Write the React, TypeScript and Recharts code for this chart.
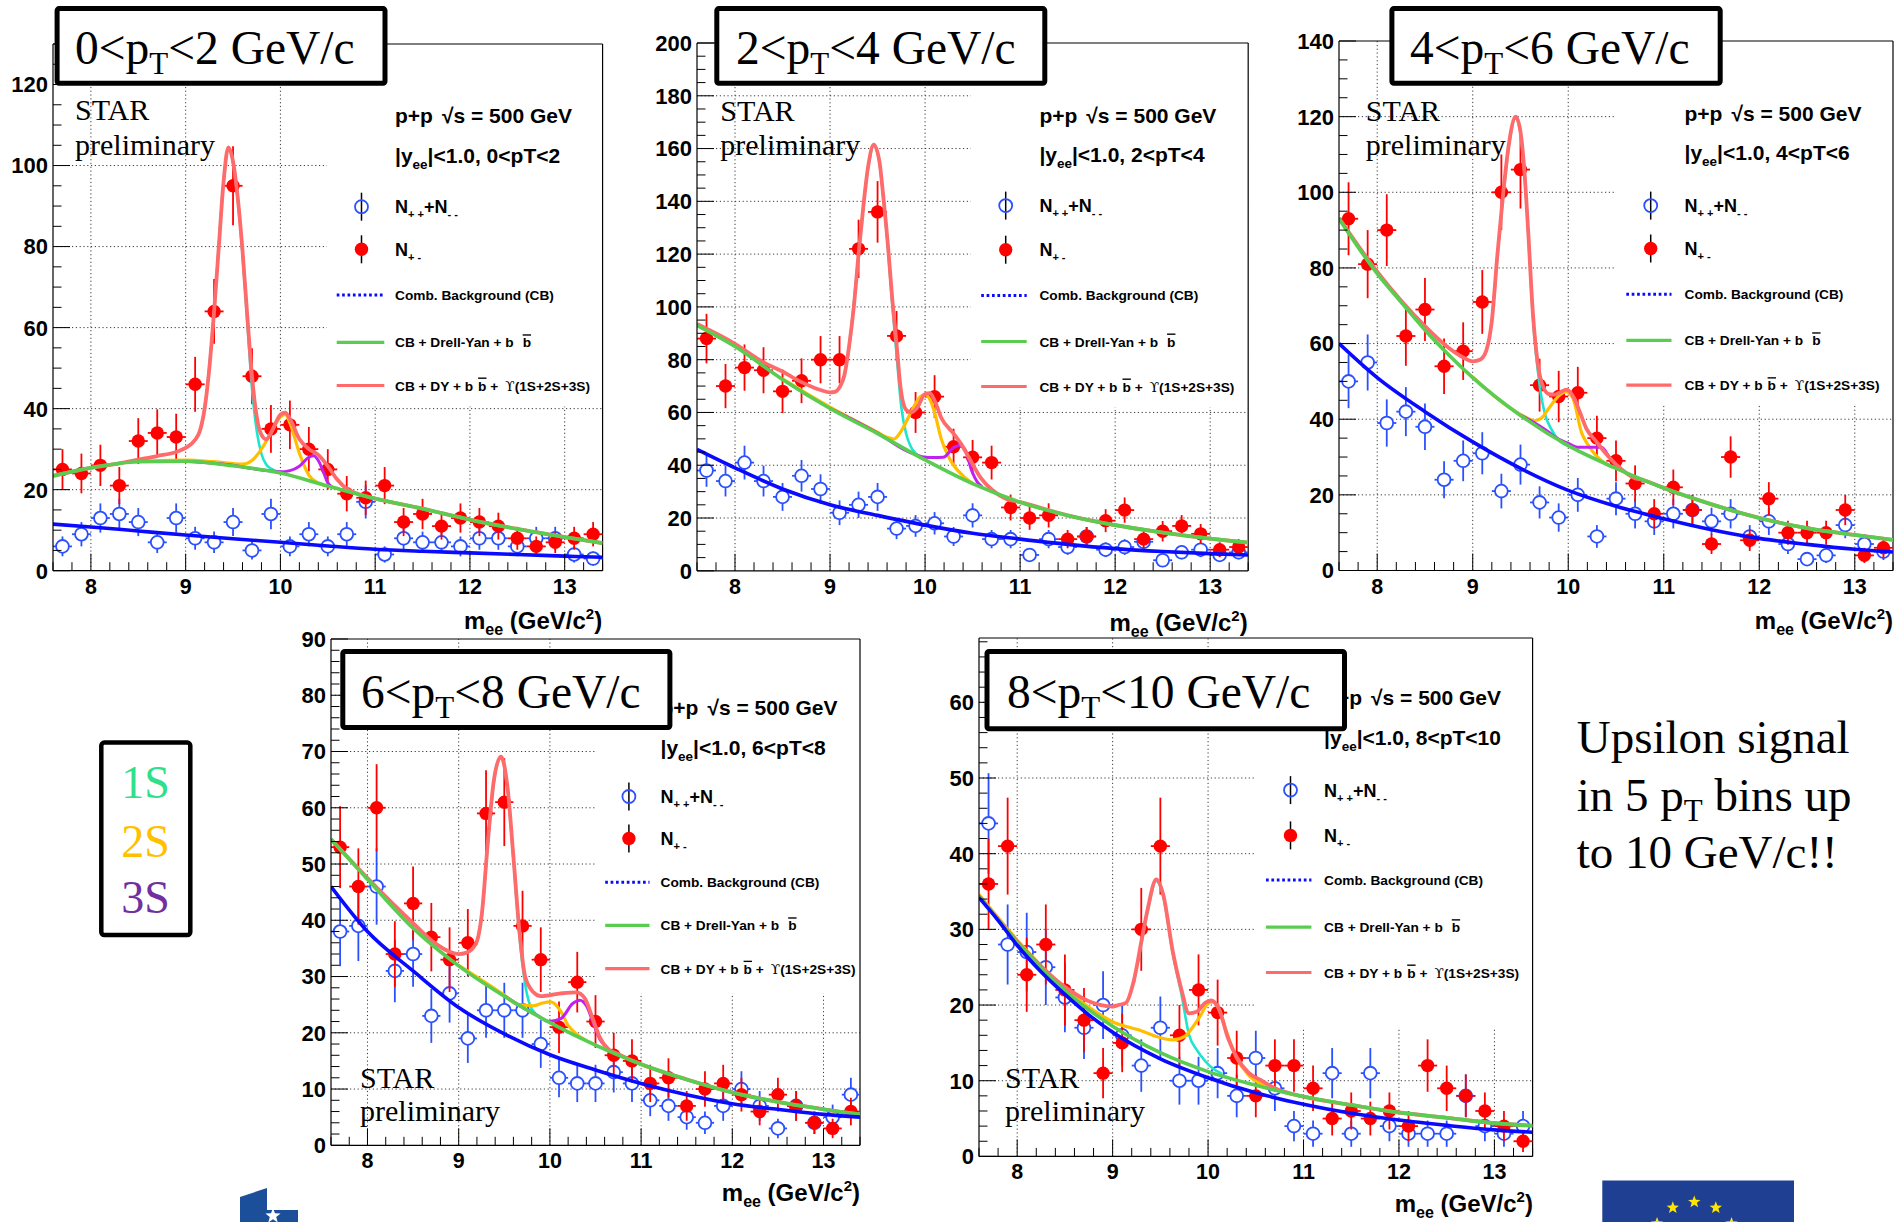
import React from 'react';
import {
  ComposedChart,
  XAxis,
  YAxis,
  Scatter,
  Line,
  ErrorBar,
  ReferenceLine,
  ReferenceArea,
} from 'recharts';

type Pt = [number, number];

// ---------------------------------------------------------------------------
// Data: dielectron invariant-mass spectra, p+p sqrt(s) = 500 GeV
// ---------------------------------------------------------------------------

// Bin centres in m_ee (GeV/c^2); bins are 0.2 GeV/c^2 wide
const massBins = [
  7.7, 7.9, 8.1, 8.3, 8.5, 8.7, 8.9, 9.1, 9.3, 9.5, 9.7, 9.9, 10.1, 10.3, 10.5,
  10.7, 10.9, 11.1, 11.3, 11.5, 11.7, 11.9, 12.1, 12.3, 12.5, 12.7, 12.9, 13.1, 13.3,
];
const massRange: [number, number] = [7.6, 13.4];
const massTickLabels = [8, 9, 10, 11, 12, 13];
const binHalfWidth = 0.1;

// pT bin edges (GeV/c)
const ptBins: [string, string][] = [['0', '2'], ['2', '4'], ['4', '6'], ['6', '8'], ['8', '10']];

// 0 < pT < 2
const p1Unlike = [25, 24, 26, 21, 32, 34, 33, 46, 64, 95, 48, 35, 36, 30, 25, 19, 18, 21, 12, 14, 11, 13, 12, 11, 8, 6, 7, 8, 9];
const p1Like = [6, 9, 13, 14, 12, 7, 13, 8, 7, 12, 5, 14, 6, 9, 6, 9, 17, 4, 8, 7, 7, 6, 8, 8, 6, 8, 8, 4, 3];
const p1Comb: Pt[] = [[7.6, 11.5], [8, 10.8], [8.5, 9.8], [9, 8.8], [9.5, 7.9], [10, 7.0], [10.5, 6.1], [11, 5.3], [11.5, 4.8], [12, 4.4], [12.5, 4.0], [13, 3.6], [13.4, 3.3]];
const p1DrellYan: Pt[] = [[7.6, 23.4], [8, 25.4], [8.5, 26.9], [9, 27.0], [9.5, 25.9], [10, 24.1], [10.5, 20.9], [11, 17.8], [11.5, 15.3], [12, 12.6], [12.5, 10.3], [13, 8.3], [13.4, 6.8]];
const p1Full: Pt[] = [[7.6, 23.4], [8, 25.4], [8.3, 26.5], [8.5, 27.4], [8.7, 28.3], [8.9, 29.3], [9.0, 30.3], [9.1, 32.3], [9.15, 34.5], [9.2, 40], [9.25, 50], [9.3, 64], [9.35, 80], [9.4, 96], [9.45, 104.5], [9.5, 101], [9.55, 92], [9.6, 79], [9.65, 63], [9.7, 48], [9.75, 38], [9.8, 33.5], [9.85, 32.4], [9.9, 34], [9.95, 36.5], [10.0, 38.5], [10.05, 39], [10.1, 37.5], [10.2, 32.5], [10.3, 30], [10.4, 28.6], [10.5, 25.8], [10.6, 22.5], [10.7, 20.2], [10.8, 19.1], [11, 17.8], [11.5, 15.3], [12, 12.6], [12.5, 10.3], [13, 8.3], [13.4, 6.8]];
const p1Ups1S: Pt[] = [[9.1, 32.1], [9.2, 39.8], [9.3, 63.8], [9.4, 95.8], [9.45, 104.3], [9.5, 100.7], [9.55, 91.5], [9.6, 78], [9.65, 61.5], [9.7, 45], [9.75, 34.5], [9.8, 28.8], [9.85, 26.2], [9.9, 25.2], [10.0, 24.3]];
const p1Ups2S: Pt[] = [[8.6, 27.1], [9.0, 27.3], [9.3, 26.9], [9.6, 26.3], [9.7, 27.2], [9.8, 30], [9.9, 34], [10.0, 38], [10.05, 38.6], [10.1, 36.5], [10.2, 29], [10.3, 23.6], [10.4, 21.6], [10.5, 20.9]];
const p1Ups3S: Pt[] = [[9.0, 27.0], [9.5, 26.0], [9.7, 25.2], [9.9, 24.6], [10.0, 24.4], [10.1, 24.7], [10.2, 25.8], [10.3, 28], [10.35, 28.4], [10.4, 27.2], [10.45, 24.6], [10.5, 21.7], [10.55, 20.6]];

// 2 < pT < 4
const p2Unlike = [88, 70, 77, 76, 68, 72, 80, 80, 122, 136, 89, 60, 66, 47, 43, 41, 24, 20, 21, 12, 13, 19, 23, 12, 15, 17, 14, 8, 9];
const p2Like = [38, 34, 41, 34, 28, 36, 31, 22, 25, 28, 16, 17, 18, 13, 21, 12, 12, 6, 12, 9, 13, 8, 9, 11, 4, 7, 8, 6, 7];
const p2Comb: Pt[] = [[7.6, 46], [8, 39], [8.5, 31], [9, 25], [9.5, 21], [10, 17.3], [10.5, 14.2], [11, 12], [11.5, 10], [12, 8.4], [12.5, 7.3], [13, 6.5], [13.4, 6]];
const p2DrellYan: Pt[] = [[7.6, 93], [8, 85], [8.5, 72.5], [9, 61.5], [9.5, 52], [10, 42], [10.5, 33], [11, 26], [11.5, 21], [12, 17.3], [12.5, 14.5], [13, 12.2], [13.4, 10.7]];
const p2Full: Pt[] = [[7.6, 93.5], [8, 86], [8.3, 79], [8.5, 75.5], [8.7, 71.5], [8.9, 68.5], [9.0, 67.6], [9.05, 67.8], [9.1, 69.5], [9.15, 74], [9.2, 85], [9.25, 100], [9.3, 120], [9.35, 138], [9.4, 153], [9.46, 161.5], [9.52, 155], [9.56, 142], [9.61, 123], [9.65, 105], [9.7, 86], [9.74, 70], [9.8, 61], [9.85, 60], [9.92, 62], [10.0, 67], [10.05, 67.3], [10.1, 64.5], [10.17, 58], [10.3, 52], [10.38, 48], [10.46, 43], [10.59, 35], [10.71, 30.5], [10.85, 27.3], [11, 26], [11.5, 21], [12, 17.3], [12.5, 14.5], [13, 12.2], [13.4, 10.7]];
const p2Ups1S: Pt[] = [[9.15, 73.5], [9.2, 84.5], [9.3, 119.5], [9.4, 152.5], [9.46, 161], [9.52, 154.5], [9.56, 141.5], [9.61, 122], [9.65, 103], [9.7, 82], [9.75, 62], [9.8, 52], [9.85, 47], [9.9, 44.5], [10, 42]];
const p2Ups2S: Pt[] = [[8.5, 72.7], [9, 62], [9.5, 52.5], [9.6, 50.6], [9.67, 49.9], [9.75, 53], [9.85, 60], [9.95, 66], [10.0, 66.8], [10.05, 65], [10.1, 60], [10.17, 50], [10.25, 43], [10.3, 40], [10.4, 36], [10.5, 33.2]];
const p2Ups3S: Pt[] = [[9.0, 61.6], [9.5, 52.2], [9.8, 45.5], [9.9, 44], [10.0, 43], [10.09, 42.9], [10.19, 43], [10.3, 46.7], [10.36, 47.5], [10.42, 46], [10.49, 38], [10.55, 33.6], [10.6, 31.8]];

// 4 < pT < 6
const p3Unlike = [93, 81, 90, 62, 69, 54, 58, 71, 100, 106, 49, 46, 47, 35, 29, 23, 15, 22, 16, 7, 30, 8, 19, 10, 10, 10, 16, 4, 6];
const p3Like = [50, 55, 39, 42, 38, 24, 29, 31, 21, 28, 18, 14, 20, 9, 19, 15, 13, 15, 16, 13, 15, 9, 13, 7, 3, 4, 12, 7, 5];
const p3Comb: Pt[] = [[7.6, 60], [8, 51], [8.5, 42], [9, 34], [9.5, 27], [10, 21.2], [10.5, 17], [11, 13.7], [11.5, 10.8], [12, 8.5], [12.5, 6.9], [13, 5.6], [13.4, 4.9]];
const p3DrellYan: Pt[] = [[7.6, 93], [7.8, 85.5], [8, 78.5], [8.25, 71], [8.5, 63.6], [8.75, 57], [9, 51], [9.5, 41], [10, 33], [10.5, 27], [11, 21.8], [11.5, 17.5], [12, 13.9], [12.5, 11.2], [13, 9.4], [13.4, 8.1]];
const p3Full: Pt[] = [[7.6, 93.2], [8, 79], [8.5, 64.6], [8.75, 58.8], [8.9, 56.3], [9.0, 55.3], [9.08, 55.8], [9.14, 58], [9.2, 66], [9.26, 84], [9.32, 100], [9.38, 113], [9.45, 120], [9.5, 116], [9.54, 106], [9.58, 90], [9.63, 68], [9.68, 55], [9.73, 49], [9.8, 46.6], [9.86, 46.5], [9.92, 47.2], [9.98, 47.8], [10.06, 45.6], [10.12, 42], [10.19, 37.5], [10.29, 34.2], [10.43, 29.9], [10.56, 26.7], [10.68, 24.6], [10.8, 23.8], [11, 21.8], [11.5, 17.5], [12, 13.9], [12.5, 11.2], [13, 9.4], [13.4, 8.1]];
const p3Ups1S: Pt[] = [[9.2, 65.5], [9.26, 83.5], [9.32, 99.5], [9.38, 112.5], [9.45, 119.5], [9.5, 115.5], [9.54, 105.5], [9.58, 89.5], [9.63, 67], [9.7, 49], [9.76, 41], [9.82, 37.5], [9.9, 34.5], [10.0, 33]];
const p3Ups2S: Pt[] = [[9.0, 51.2], [9.5, 41.3], [9.65, 39.6], [9.72, 40.3], [9.8, 43], [9.86, 45], [9.92, 46.6], [9.98, 47.2], [10.05, 45.5], [10.14, 36.4], [10.2, 33.5], [10.27, 31], [10.35, 29], [10.43, 27.7], [10.5, 27.1]];
const p3Ups3S: Pt[] = [[9.5, 41.1], [9.8, 36.5], [9.86, 35.3], [10.0, 33.6], [10.1, 32.6], [10.2, 32.6], [10.35, 32.6], [10.43, 29.9], [10.52, 27.2], [10.58, 26.4]];

// 6 < pT < 8
const p4Unlike = [53, 46, 60, 34, 43, 37, 33, 36, 59, 61, 39, 33, 21, 29, 22, 16, 15, 11, 12, 7, 10, 11, 9, 6, 9, 7, 4, 3, 6];
const p4Like = [38, 39, 46, 31, 34, 23, 27, 19, 24, 24, 24, 18, 12, 11, 11, 13, 11, 8, 7, 5, 4, 7, 10, 7, 3, 7, 4, 5, 9];
const p4Comb: Pt[] = [[7.6, 46], [8, 38], [8.5, 31], [9, 24.5], [9.5, 19.8], [10, 16.1], [10.5, 13.4], [11, 11], [11.5, 9], [12, 7.4], [12.5, 6.4], [13, 5.5], [13.4, 5]];
const p4DrellYan: Pt[] = [[7.6, 54.4], [8, 47.3], [8.5, 38.6], [9, 31.9], [9.5, 26.5], [10, 21.8], [10.5, 17.8], [11, 14.4], [11.5, 11.7], [12, 9.4], [12.5, 7.7], [13, 6.4], [13.4, 5.5]];
const p4Full: Pt[] = [[7.6, 54.4], [8, 47.5], [8.5, 39.5], [8.75, 35.8], [9.0, 34], [9.08, 34.2], [9.19, 35.9], [9.255, 41.3], [9.32, 54], [9.385, 64.8], [9.463, 69.1], [9.537, 63.4], [9.6, 51.3], [9.667, 37.9], [9.73, 29.9], [9.82, 27.2], [9.9, 26.5], [10.12, 27], [10.29, 27.2], [10.38, 26.2], [10.47, 22.5], [10.55, 19.1], [10.64, 17.1], [10.75, 16.2], [11, 14.4], [11.5, 11.7], [12, 9.4], [12.5, 7.7], [13, 6.4], [13.4, 5.5]];
const p4Ups1S: Pt[] = [[9.19, 35.6], [9.255, 41], [9.32, 53.7], [9.385, 64.5], [9.463, 68.8], [9.537, 63], [9.6, 50.8], [9.667, 37], [9.73, 28.5], [9.78, 25], [9.86, 23.1], [9.95, 22.3]];
const p4Ups2S: Pt[] = [[9.0, 32], [9.5, 26.7], [9.65, 25], [9.82, 24.8], [9.92, 25.3], [10.01, 25.5], [10.12, 23.8], [10.2, 21.3], [10.29, 19.8], [10.4, 18.6]];
const p4Ups3S: Pt[] = [[9.5, 26.6], [9.7, 24.5], [9.85, 23.2], [9.99, 22], [10.12, 22.5], [10.25, 25.2], [10.33, 25.8], [10.4, 24.8], [10.49, 21.1], [10.55, 18.8], [10.62, 17.4]];

// 8 < pT < 10
const p5Unlike = [36, 41, 24, 28, 22, 18, 11, 15, 30, 41, 16, 22, 19, 13, 8, 12, 12, 9, 5, 6, 5, 6, 4, 12, 9, 8, 6, 4, 2];
const p5Like = [44, 28, 27, 25, 21, 17, 20, 16, 12, 17, 10, 10, 11, 8, 13, 9, 4, 3, 11, 3, 11, 4, 3, 3, 3, 8, 4, 3, 4];
const p5Comb: Pt[] = [[7.6, 34.2], [7.8, 31.2], [8, 27.9], [8.25, 24.4], [8.5, 21.4], [8.75, 18.7], [9, 16.4], [9.5, 12.9], [10, 10.4], [10.5, 8.4], [11, 6.9], [11.5, 5.7], [12, 4.8], [12.5, 4.1], [13, 3.5], [13.4, 3.2]];
const p5DrellYan: Pt[] = [[7.6, 34.4], [8, 28.3], [8.5, 21.9], [9, 17.2], [9.5, 13.7], [10, 11.2], [10.5, 9.4], [11, 7.9], [11.5, 6.8], [12, 5.8], [12.5, 5.1], [13, 4.4], [13.4, 4.05]];
const p5Full: Pt[] = [[7.6, 34.4], [8, 28.4], [8.5, 22.4], [8.75, 20.5], [9.0, 19.8], [9.06, 20], [9.14, 20.3], [9.22, 23.1], [9.304, 28.6], [9.366, 32.6], [9.457, 36.6], [9.53, 34.6], [9.63, 27.1], [9.72, 22.1], [9.8, 18.9], [9.88, 19.1], [9.97, 20.3], [10.03, 20.6], [10.11, 19.6], [10.21, 15.6], [10.3, 13.1], [10.42, 11.1], [10.55, 10.1], [10.7, 9.0], [11, 7.9], [11.5, 6.8], [12, 5.8], [12.5, 5.1], [13, 4.4], [13.4, 4.05]];
const p5Ups1S: Pt[] = [[9.22, 22.8], [9.304, 28.3], [9.366, 32.3], [9.457, 36.4], [9.53, 34.4], [9.63, 26.8], [9.72, 21.5], [9.8, 16.1], [9.88, 14.1], [9.97, 12.6], [10.05, 11.6], [10.15, 10.9]];
const p5Ups2S: Pt[] = [[7.6, 34.6], [8, 28.6], [8.5, 22.2], [8.8, 19.3], [9.0, 17.8], [9.3, 16.6], [9.47, 15.8], [9.63, 15.4], [9.76, 15.9], [9.84, 17.1], [9.92, 18.6], [10.0, 20.2], [10.05, 20.4], [10.12, 19.3], [10.2, 16.2], [10.3, 13], [10.42, 10.8], [10.55, 9.6], [10.65, 9.1]];
const p5Ups3S: Pt[] = [];

// Count-axis major ticks for each panel
const p1YTicks = [0, 20, 40, 60, 80, 100, 120];
const p2YTicks = [0, 20, 40, 60, 80, 100, 120, 140, 160, 180, 200];
const p3YTicks = [0, 20, 40, 60, 80, 100, 120, 140];
const p4YTicks = [0, 10, 20, 30, 40, 50, 60, 70, 80, 90];
const p5YTicks = [0, 10, 20, 30, 40, 50, 60];

// ---------------------------------------------------------------------------
// Styling
// ---------------------------------------------------------------------------
const SANS = '"Liberation Sans", Arial, Helvetica, sans-serif';
const SERIF = '"Liberation Serif", "Times New Roman", Times, serif';
const SYMBOL = '"DejaVu Serif", "Liberation Serif", serif';
const C_LIKE = '#2b50ff';
const C_UNLIKE = '#ff0000';
const C_CB = '#0a0aff';
const C_DY = '#5acd50';
const C_FULL = '#ff6a6a';
const C_1S = '#1de6cf';
const C_2S = '#ffbf00';
const C_3S = '#c020f0';

// Space around each plot rectangle inside its chart surface
const PAD_LEFT = 70;
const PAD_TOP = 24;
const PAD_RIGHT = 10;
const PAD_BOTTOM = 70;

// ---------------------------------------------------------------------------
// Panel configuration (plot rectangle in page pixels + axis/legend settings)
// ---------------------------------------------------------------------------
interface PanelCfg {
  key: string;
  plot: { x: number; y: number; w: number; h: number };
  yMax: number;
  yMajor: number[];
  yMinorStep: number;
  backdrop: [number, number];
  unlike: number[];
  like: number[];
  comb: Pt[];
  dy: Pt[];
  full: Pt[];
  s1: Pt[];
  s2: Pt[];
  s3: Pt[];
  pt: [string, string];
  title: { x1: number; y1: number; x2: number; y2: number; tx: number; ty: number };
  star: { x: number; y1: number; y2: number };
  legend: { tx: number; b1: number; b2: number; rows: number[]; mx: number; lx1: number; lx2: number };
  axisTitleY: number;
}

const panels: PanelCfg[] = [
  {
    key: 'p1', plot: { x: 52.6, y: 43.6, w: 549.6, h: 526.7 }, yMax: 130, yMajor: p1YTicks, yMinorStep: 5,
    backdrop: [10.49, 40.5], unlike: p1Unlike, like: p1Like, comb: p1Comb, dy: p1DrellYan, full: p1Full,
    s1: p1Ups1S, s2: p1Ups2S, s3: p1Ups3S, pt: ptBins[0],
    title: { x1: 54.6, y1: 6.1, x2: 387.5, y2: 85.7, tx: 75, ty: 63.5 },
    star: { x: 75, y1: 120.4, y2: 155 },
    legend: { tx: 395, b1: 122.5, b2: 162.5, rows: [206.7, 249.3, 295, 342.3, 385.5], mx: 361.5, lx1: 336.7, lx2: 384.3 },
    axisTitleY: 628.6,
  },
  {
    key: 'p2', plot: { x: 696.5, y: 42.5, w: 551.2, h: 527.8 }, yMax: 200, yMajor: p2YTicks, yMinorStep: 5,
    backdrop: [10.48, 62], unlike: p2Unlike, like: p2Like, comb: p2Comb, dy: p2DrellYan, full: p2Full,
    s1: p2Ups1S, s2: p2Ups2S, s3: p2Ups3S, pt: ptBins[1],
    title: { x1: 714.3, y1: 6.1, x2: 1047.3, y2: 85.7, tx: 736, ty: 63.5 },
    star: { x: 720.3, y1: 121.2, y2: 155 },
    legend: { tx: 1039.4, b1: 122.5, b2: 162, rows: [205.6, 249.7, 295.4, 341.5, 386.5], mx: 1005.7, lx1: 981.2, lx2: 1026.7 },
    axisTitleY: 630.7,
  },
  {
    key: 'p3', plot: { x: 1339, y: 40.8, w: 554, h: 529.5 }, yMax: 140, yMajor: p3YTicks, yMinorStep: 5,
    backdrop: [10.5, 44], unlike: p3Unlike, like: p3Like, comb: p3Comb, dy: p3DrellYan, full: p3Full,
    s1: p3Ups1S, s2: p3Ups2S, s3: p3Ups3S, pt: ptBins[2],
    title: { x1: 1389.4, y1: 6.1, x2: 1722.7, y2: 85.7, tx: 1410, ty: 63.5 },
    star: { x: 1365.8, y1: 121.2, y2: 155 },
    legend: { tx: 1684.5, b1: 121.2, b2: 160.4, rows: [205.6, 248.5, 294.2, 340.3, 385.2], mx: 1650.7, lx1: 1626.3, lx2: 1671.5 },
    axisTitleY: 628.6,
  },
  {
    key: 'p4', plot: { x: 331, y: 639.1, w: 529, h: 506.3 }, yMax: 90, yMajor: p4YTicks, yMinorStep: 2,
    backdrop: [10.5, 27], unlike: p4Unlike, like: p4Like, comb: p4Comb, dy: p4DrellYan, full: p4Full,
    s1: p4Ups1S, s2: p4Ups2S, s3: p4Ups3S, pt: ptBins[3],
    title: { x1: 340.3, y1: 648.9, x2: 672.4, y2: 730.1, tx: 361, ty: 707.6 },
    star: { x: 360, y1: 1087.7, y2: 1120.9 },
    legend: { tx: 660.5, b1: 715, b2: 755, rows: [796.5, 838.4, 882.2, 925.3, 968.7], mx: 628.9, lx1: 605.2, lx2: 649.5 },
    axisTitleY: 1200.5,
  },
  {
    key: 'p5', plot: { x: 979.3, y: 637.6, w: 553.6, h: 518.4 }, yMax: 68.5, yMajor: p5YTicks, yMinorStep: 2,
    backdrop: [10.49, 17], unlike: p5Unlike, like: p5Like, comb: p5Comb, dy: p5DrellYan, full: p5Full,
    s1: p5Ups1S, s2: p5Ups2S, s3: p5Ups3S, pt: ptBins[4],
    title: { x1: 984.5, y1: 648.9, x2: 1347, y2: 731.2, tx: 1007, ty: 707.6 },
    star: { x: 1005, y1: 1087.7, y2: 1120.9 },
    legend: { tx: 1324.1, b1: 704.8, b2: 745, rows: [790.1, 835.4, 880, 927.2, 972.5], mx: 1290.5, lx1: 1266, lx2: 1311.4 },
    axisTitleY: 1212,
  },
];

// Minor mass ticks every 0.2 GeV/c^2 across the axis range
const massTicks: number[] = [];
for (let i = 0; i <= 29; i++) massTicks.push(Math.round((massRange[0] + 0.2 * i) * 10) / 10);

const countTicks = (yMax: number, step: number) => {
  const t: number[] = [];
  for (let v = 0; v <= yMax + 1e-9; v += step) t.push(Math.round(v * 100) / 100);
  return t;
};

// Poisson (sqrt N) vertical errors, half-bin horizontal errors
const toCounts = (vals: number[]) =>
  massBins.map((m, i) => ({ x: m, y: vals[i], ey: Math.sqrt(vals[i]), ex: binHalfWidth }));
const toCurve = (pts: Pt[]) => pts.map(([x, y]) => ({ x, y }));

// ---------------------------------------------------------------------------
// Axis ticks drawn inside the frame (ROOT style), labels outside
// ---------------------------------------------------------------------------
const MassTick = (props: any) => {
  const { x, y, payload } = props;
  const v = payload.value as number;
  const major = Math.abs(v - Math.round(v)) < 1e-6;
  return (
    <g>
      <line x1={x} x2={x} y1={y} y2={y - (major ? 17 : 8.5)} stroke="#000" strokeWidth={1} />
      {major && (
        <text x={x} y={y + 23} textAnchor="middle" fontFamily={SANS} fontWeight="bold" fontSize={21.5} fill="#000">
          {v}
        </text>
      )}
    </g>
  );
};

const CountTick = (props: any) => {
  const { x, y, payload, majors } = props;
  const v = payload.value as number;
  const major = (majors as number[]).includes(v);
  return (
    <g>
      <line x1={x} x2={x + (major ? 17 : 8.5)} y1={y} y2={y} stroke="#000" strokeWidth={1} />
      {major && (
        <text x={x - 5} y={y} dy="0.36em" textAnchor="end" fontFamily={SANS} fontWeight="bold" fontSize={22} fill="#000">
          {v}
        </text>
      )}
    </g>
  );
};

const NoMarker = () => <g />;
const OpenCircle = (p: any) => (
  <circle cx={p.cx} cy={p.cy} r={6.4} fill="#fff" stroke={C_LIKE} strokeWidth={1.8} />
);
const FilledCircle = (p: any) => <circle cx={p.cx} cy={p.cy} r={6.7} fill={C_UNLIKE} />;

// ---------------------------------------------------------------------------
// One mass-spectrum panel
// ---------------------------------------------------------------------------
function Panel({ cfg }: { cfg: PanelCfg }) {
  const { plot, yMax } = cfg;
  const W = plot.w + PAD_LEFT + PAD_RIGHT;
  const H = plot.h + PAD_TOP + PAD_BOTTOM;
  const gridDash = '1.2 2.6';
  const like = toCounts(cfg.like);
  const unlike = toCounts(cfg.unlike);
  const curve = (pts: Pt[], color: string, width: number, z: number, id: string) =>
    pts.length ? (
      <Line
        key={id}
        data={toCurve(pts)}
        dataKey="y"
        type="monotone"
        stroke={color}
        strokeWidth={width}
        dot={false}
        activeDot={false}
        isAnimationActive={false}
        zIndex={z}
      />
    ) : null;

  return (
    <div style={{ position: 'absolute', left: plot.x - PAD_LEFT, top: plot.y - PAD_TOP, width: W, height: H }}>
      <ComposedChart width={W} height={H} margin={{ top: PAD_TOP, right: PAD_RIGHT, left: 0, bottom: 0 }}>
        <XAxis
          type="number"
          dataKey="x"
          domain={massRange}
          allowDataOverflow
          ticks={massTicks}
          interval={0}
          tickSize={0}
          tickMargin={0}
          tickLine={false}
          axisLine={{ stroke: '#000', strokeWidth: 1.2 }}
          tick={<MassTick />}
          height={PAD_BOTTOM}
        />
        <YAxis
          type="number"
          dataKey="y"
          domain={[0, yMax]}
          allowDataOverflow
          ticks={countTicks(yMax, cfg.yMinorStep)}
          interval={0}
          tickSize={0}
          tickMargin={0}
          tickLine={false}
          axisLine={{ stroke: '#000', strokeWidth: 1.2 }}
          tick={<CountTick majors={cfg.yMajor} />}
          width={PAD_LEFT}
        />
        {massTickLabels.map((v) => (
          <ReferenceLine key={'gx' + v} x={v} stroke="#3a3a3a" strokeDasharray={gridDash} strokeWidth={1} zIndex={-90} />
        ))}
        {cfg.yMajor
          .filter((v) => v > 0 && v < yMax)
          .map((v) => (
            <ReferenceLine key={'gy' + v} y={v} stroke="#3a3a3a" strokeDasharray={gridDash} strokeWidth={1} zIndex={-90} />
          ))}
        <ReferenceArea
          x1={cfg.backdrop[0]}
          x2={massRange[1]}
          y1={cfg.backdrop[1]}
          y2={yMax}
          fill="#ffffff"
          fillOpacity={1}
          stroke="none"
          zIndex={-80}
        />
        <ReferenceLine x={massRange[1]} stroke="#000" strokeWidth={1.2} zIndex={-70} />
        <ReferenceLine y={yMax} stroke="#000" strokeWidth={1.2} zIndex={-70} />

        {/* like-sign pairs: error bars first, markers on top */}
        <Scatter data={like} dataKey="y" shape={NoMarker} isAnimationActive={false} zIndex={100}>
          <ErrorBar dataKey="ey" direction="y" width={0} stroke={C_LIKE} strokeWidth={1.8} zIndex={100} />
          <ErrorBar dataKey="ex" direction="x" width={0} stroke={C_LIKE} strokeWidth={1.8} zIndex={100} />
        </Scatter>
        <Scatter data={like} dataKey="y" shape={OpenCircle} isAnimationActive={false} zIndex={101} />

        {/* unlike-sign pairs */}
        <Scatter data={unlike} dataKey="y" shape={NoMarker} isAnimationActive={false} zIndex={102}>
          <ErrorBar dataKey="ey" direction="y" width={0} stroke={C_UNLIKE} strokeWidth={1.8} zIndex={102} />
          <ErrorBar dataKey="ex" direction="x" width={0} stroke={C_UNLIKE} strokeWidth={1.8} zIndex={102} />
        </Scatter>
        <Scatter data={unlike} dataKey="y" shape={FilledCircle} isAnimationActive={false} zIndex={103} />

        {curve(cfg.s1, C_1S, 2.6, 200, 's1')}
        {curve(cfg.s2, C_2S, 3.2, 201, 's2')}
        {curve(cfg.s3, C_3S, 3, 202, 's3')}
        {curve(cfg.full, C_FULL, 3.8, 203, 'full')}
        {curve(cfg.dy, C_DY, 3.6, 204, 'dy')}
        {curve(cfg.comb, C_CB, 3.6, 205, 'cb')}
      </ComposedChart>
    </div>
  );
}

// ---------------------------------------------------------------------------
// Text annotations, legends and title boxes
// ---------------------------------------------------------------------------
function PanelNotes({ cfg }: { cfg: PanelCfg }) {
  const { legend: lg, title: t, star, plot } = cfg;
  const [r1, r2, r3, r4, r5] = lg.rows;
  const bold = { fontFamily: SANS, fontWeight: 'bold' as const, fill: '#000' };
  return (
    <g>
      {/* STAR preliminary */}
      <text x={star.x} y={star.y1} fontFamily={SERIF} fontSize={30} fill="#000">STAR</text>
      <text x={star.x} y={star.y2} fontFamily={SERIF} fontSize={30} fill="#000">preliminary</text>

      {/* Legend */}
      <text x={lg.tx} y={lg.b1} fontSize={21} {...bold}>
        p+p<tspan dx={9}>√s = 500 GeV</tspan>
      </text>
      <text x={lg.tx} y={lg.b2} fontSize={21} {...bold}>
        |y<tspan fontSize={13.5} dy={6}>ee</tspan>
        <tspan dy={-6}>|&lt;1.0, {cfg.pt[0]}&lt;pT&lt;{cfg.pt[1]}</tspan>
      </text>

      <line x1={lg.mx} x2={lg.mx} y1={r1 - 14} y2={r1 + 14} stroke="#000" strokeWidth={1.5} />
      <circle cx={lg.mx} cy={r1} r={6.5} fill="none" stroke={C_LIKE} strokeWidth={1.8} />
      <text x={lg.tx} y={r1 + 6.5} fontSize={18} {...bold}>
        N<tspan fontSize={11} dy={5}>+ +</tspan>
        <tspan dy={-5}>+N</tspan>
        <tspan fontSize={11} dy={5}>- -</tspan>
      </text>

      <line x1={lg.mx} x2={lg.mx} y1={r2 - 14} y2={r2 + 14} stroke="#000" strokeWidth={1.5} />
      <circle cx={lg.mx} cy={r2} r={6.7} fill={C_UNLIKE} />
      <text x={lg.tx} y={r2 + 6.5} fontSize={18} {...bold}>
        N<tspan fontSize={11} dy={5}>+ -</tspan>
      </text>

      <line x1={lg.lx1} x2={lg.lx2} y1={r3} y2={r3} stroke={C_CB} strokeWidth={3} strokeDasharray="2.7 2.7" />
      <text x={lg.tx} y={r3 + 5} fontSize={13.7} {...bold}>Comb. Background (CB)</text>

      <line x1={lg.lx1} x2={lg.lx2} y1={r4} y2={r4} stroke={C_DY} strokeWidth={3.2} />
      <text x={lg.tx} y={r4 + 5} fontSize={13.7} {...bold}>
        CB + Drell-Yan + b<tspan dx={9} textDecoration="overline">b</tspan>
      </text>

      <line x1={lg.lx1} x2={lg.lx2} y1={r5} y2={r5} stroke={C_FULL} strokeWidth={3.2} />
      <text x={lg.tx} y={r5 + 5} fontSize={13.7} {...bold}>
        CB + DY + b<tspan dx={5} textDecoration="overline">b</tspan>
        <tspan> +</tspan>
        <tspan dx={7} fontFamily={SYMBOL} fontWeight="normal">ϒ</tspan>
        <tspan>(1S+2S+3S)</tspan>
      </text>

      {/* Axis title */}
      <text x={plot.x + plot.w} y={cfg.axisTitleY} textAnchor="end" fontSize={24} {...bold}>
        m<tspan fontSize={16} dy={6}>ee</tspan>
        <tspan dy={-6}> (GeV/c</tspan>
        <tspan fontSize={15} dy={-10}>2</tspan>
        <tspan dy={10}>)</tspan>
      </text>

      {/* pT bin title box */}
      <rect
        x={t.x1 + 2.5}
        y={t.y1 + 2.5}
        width={t.x2 - t.x1 - 5}
        height={t.y2 - t.y1 - 5}
        rx={2}
        fill="#fff"
        stroke="#000"
        strokeWidth={5}
      />
      <text x={t.tx} y={t.ty} fontFamily={SERIF} fontSize={47.5} fill="#000">
        {cfg.pt[0]}&lt;p<tspan fontSize={31} dy={10}>T</tspan>
        <tspan dy={-10}>&lt;{cfg.pt[1]} GeV/c</tspan>
      </text>
    </g>
  );
}

const starPoints = (cx: number, cy: number, r: number) => {
  const pts: string[] = [];
  for (let i = 0; i < 10; i++) {
    const a = -Math.PI / 2 + (i * Math.PI) / 5;
    const rr = i % 2 === 0 ? r : r * 0.42;
    pts.push(`${(cx + rr * Math.cos(a)).toFixed(2)},${(cy + rr * Math.sin(a)).toFixed(2)}`);
  }
  return pts.join(' ');
};

function Overlay() {
  const euStars = Array.from({ length: 12 }, (_, i) => {
    const a = (i * Math.PI) / 6;
    return starPoints(1694.3 + 43 * Math.sin(a), 1245 - 43 * Math.cos(a), 6.5);
  });
  return (
    <svg
      width={1897}
      height={1222}
      style={{ position: 'absolute', left: 0, top: 0, pointerEvents: 'none' }}
    >
      {panels.map((p) => (
        <PanelNotes key={p.key} cfg={p} />
      ))}

      {/* Upsilon state colour key */}
      <rect x={101.3} y={742.6} width={89} height={192.4} rx={3} fill="#fff" stroke="#000" strokeWidth={4.5} />
      <text x={145.5} y={798} textAnchor="middle" fontFamily={SERIF} fontSize={46} fill="#2fe08a">1S</text>
      <text x={145.5} y={856.6} textAnchor="middle" fontFamily={SERIF} fontSize={46} fill="#ffc000">2S</text>
      <text x={145.5} y={913.2} textAnchor="middle" fontFamily={SERIF} fontSize={46} fill="#7030a0">3S</text>

      {/* Summary note */}
      <text x={1576.7} y={752.7} fontFamily={SERIF} fontSize={47} fill="#000">Upsilon signal</text>
      <text x={1576.7} y={811.2} fontFamily={SERIF} fontSize={47} fill="#000">
        in 5 p<tspan fontSize={31} dy={10}>T</tspan>
        <tspan dy={-10}> bins up</tspan>
      </text>
      <text x={1576.7} y={867.9} fontFamily={SERIF} fontSize={47} fill="#000">to 10 GeV/c!!</text>

      {/* Footer logos */}
      <polygon points="240,1197 267,1188 267,1222 240,1222" fill="#1b4f9a" />
      <rect x={267} y={1210} width={31} height={12} fill="#1b4f9a" />
      <polygon points={starPoints(273, 1216, 8)} fill="#fff" />
      <rect x={1602.3} y={1180.5} width={191.7} height={42} fill="#1f3f93" />
      {euStars.map((pts, i) => (
        <polygon key={i} points={pts} fill="#ffe500" />
      ))}
    </svg>
  );
}

export default function App() {
  return (
    <div
      style={{
        position: 'absolute',
        left: 0,
        top: 0,
        width: 1897,
        height: 1222,
        overflow: 'hidden',
        background: '#fff',
      }}
    >
      {panels.map((p) => (
        <Panel key={p.key} cfg={p} />
      ))}
      <Overlay />
    </div>
  );
}
